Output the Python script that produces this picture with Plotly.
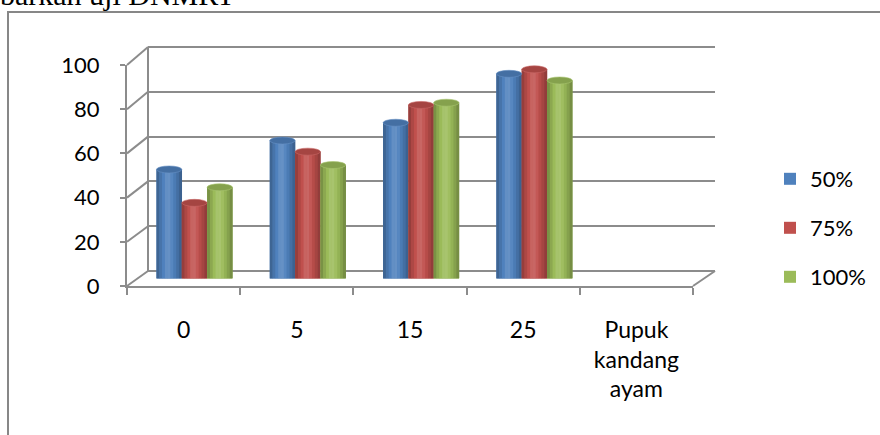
import plotly.graph_objects as go

# ---- data -------------------------------------------------------------
categories = ["0", "5", "15", "25", "Pupuk<br>kandang<br>ayam"]
series_names = ["50%", "75%", "100%"]
values_50 = [49, 62, 70, 92]
values_75 = [34, 57, 78, 94]
values_100 = [41, 51, 79, 89]
y_ticks = [0, 20, 40, 60, 80, 100]

series_values = [values_50, values_75, values_100]
series_colors = ["#4F81BD", "#C0504D", "#9BBB59"]

# ---- canvas geometry (pixels) ----------------------------------------
W, H = 880, 435
GRID = "#8c8c8c"
FONT = "Lato"


def px(x):
    return x / W


def py(y):
    return 1 - y / H


# front plane (axis labels), back wall (gridlines), middle plane (bars)
FRONT_L, FRONT_R, FRONT_0, FRONT_100 = 127, 693, 286, 65
BACK_L, BACK_R, BACK_0, BACK_100 = 148, 715, 271, 47
MID_L, MID_R, MID_0, MID_100 = 137.8, 704.3, 278.5, 56


def front_y(v):
    return FRONT_0 + (FRONT_100 - FRONT_0) * v / 100


def back_y(v):
    return BACK_0 + (BACK_100 - BACK_0) * v / 100


def shade(hex_color, f):
    r, g, b = (int(hex_color[i:i + 2], 16) for i in (1, 3, 5))
    if f <= 1:
        r, g, b = r * f, g * f, b * f
    else:
        t = min(1.0, (f - 1) * 1.6)
        r, g, b = r + (255 - r) * t, g + (255 - g) * t, b + (255 - b) * t
    return "#%02x%02x%02x" % (int(round(r)), int(round(g)), int(round(b)))


fig = go.Figure()

# invisible anchors so the wall and front subplots exist
fig.add_trace(go.Scatter(x=[None], y=[None], xaxis="x", yaxis="y",
                         showlegend=False, hoverinfo="skip"))
fig.add_trace(go.Scatter(x=[None], y=[None], xaxis="x2", yaxis="y2",
                         showlegend=False, hoverinfo="skip"))

# ---- cylinders ---------------------------------------------------------
n_data = len(values_50)
x_pos = list(range(n_data))
bar_w = 0.2235
profile = [0.78, 0.9, 1.0, 1.07, 1.08, 1.03, 0.95, 0.86, 0.76]
n_strip = len(profile)
legends = ["legend", "legend2", "legend3"]
cap_h = 7 / ((MID_0 - MID_100) / 100)

shapes = []
for k, (name, vals, col) in enumerate(zip(series_names, series_values, series_colors)):
    left = (k - 1.5) * bar_w
    fig.add_trace(go.Bar(
        x=x_pos, y=vals, width=bar_w, offset=left,
        marker=dict(color=col, line=dict(width=0)),
        name=name, legend=legends[k], showlegend=True,
        xaxis="x3", yaxis="y3", hoverinfo="y",
    ))
    sw = bar_w / n_strip
    for j, f in enumerate(profile):
        fig.add_trace(go.Bar(
            x=x_pos, y=vals, width=sw + 0.002, offset=left + j * sw,
            marker=dict(color=shade(col, f), line=dict(width=0)),
            showlegend=False, xaxis="x3", yaxis="y3", hoverinfo="skip",
        ))
    for i, v in enumerate(vals):
        x0 = i + left
        x1 = x0 + bar_w
        shapes.append(dict(type="circle", xref="x3", yref="y3",
                           x0=x0, x1=x1, y0=v - cap_h / 2, y1=v + cap_h / 2,
                           fillcolor=shade(col, 0.86),
                           line=dict(color=shade(col, 1.08), width=0.6),
                           layer="above"))
        shapes.append(dict(type="circle", xref="x3", yref="y3",
                           x0=x0, x1=x1, y0=-cap_h / 2, y1=cap_h / 2,
                           fillcolor=shade(col, 0.85), line=dict(width=0),
                           layer="below"))

# ---- side wall, back edge and floor edges --------------------------------
edge = dict(color=GRID, width=2)
for v in y_ticks:
    shapes.append(dict(type="line", xref="paper", yref="paper",
                       x0=px(FRONT_L), y0=py(front_y(v)),
                       x1=px(BACK_L), y1=py(back_y(v)),
                       line=edge, layer="below"))
shapes.append(dict(type="line", xref="paper", yref="paper",
                   x0=px(FRONT_R), y0=py(front_y(0)),
                   x1=px(BACK_R), y1=py(back_y(0)),
                   line=edge, layer="below"))
shapes.append(dict(type="line", xref="paper", yref="paper",
                   x0=px(BACK_L), y0=py(back_y(0)),
                   x1=px(BACK_L), y1=py(back_y(100)),
                   line=edge, layer="below"))
# outer chart frame
shapes.append(dict(type="rect", xref="paper", yref="paper",
                   x0=px(8), y0=py(H + 20), x1=px(W + 20), y1=py(12),
                   line=dict(color="#878787", width=2),
                   fillcolor="rgba(0,0,0,0)", layer="below"))

# back wall axis padded a little so the 0 and 100 gridlines are kept
pad = 1.0
ppu_back = (BACK_0 - BACK_100) / 100

tick_font = dict(family=FONT, size=22, color="#000000")
cat_font = dict(family=FONT, size=23, color="#000000")

legend_common = dict(font=tick_font, bgcolor="rgba(0,0,0,0)",
                     xanchor="left", yanchor="middle", itemwidth=30)

fig.update_layout(
    template="none",
    width=W, height=H,
    margin=dict(l=0, r=0, t=0, b=0, pad=0, autoexpand=False),
    paper_bgcolor="white", plot_bgcolor="rgba(0,0,0,0)",
    barmode="overlay",
    showlegend=True,
    shapes=shapes,
    # back wall
    xaxis=dict(domain=[px(BACK_L), px(BACK_R)], range=[-0.5, 4.5],
               visible=False, anchor="y"),
    yaxis=dict(domain=[py(BACK_0 + pad * ppu_back), py(BACK_100 - pad * ppu_back)],
               range=[-pad, 100 + pad],
               tickvals=y_ticks, showticklabels=False, ticks="",
               showgrid=True, gridcolor=GRID, gridwidth=2,
               showline=False, zeroline=False, anchor="x"),
    # front axes with labels
    xaxis2=dict(domain=[px(FRONT_L), px(FRONT_R)], range=[-0.5, 4.5],
                anchor="y2", tickmode="array", tickvals=list(range(len(categories))),
                ticktext=categories, ticks="", tickfont=cat_font,
                ticklabelstandoff=22, automargin=False,
                minor=dict(tickmode="array",
                           tickvals=[i - 0.5 for i in range(len(categories) + 1)],
                           ticks="outside", ticklen=7, tickwidth=2, tickcolor=GRID,
                           showgrid=False),
                showgrid=False, zeroline=False,
                showline=True, linecolor=GRID, linewidth=2),
    yaxis2=dict(domain=[py(FRONT_0), py(FRONT_100)], range=[0, 100],
                anchor="x2", tickvals=y_ticks, ticks="outside", ticklen=5,
                tickwidth=2, tickcolor=GRID, tickfont=tick_font,
                ticklabelstandoff=16, automargin=False,
                showgrid=False, zeroline=False,
                showline=True, linecolor=GRID, linewidth=2),
    # cylinders
    xaxis3=dict(domain=[px(MID_L), px(MID_R)], range=[-0.5, 4.5],
                visible=False, anchor="y3"),
    yaxis3=dict(domain=[py(MID_0), py(MID_100)], range=[0, 100],
                visible=False, anchor="x3"),
    legend=dict(x=px(770), y=py(179), **legend_common),
    legend2=dict(x=px(770), y=py(228), **legend_common),
    legend3=dict(x=px(770), y=py(277), **legend_common),
    annotations=[dict(text="barkan uji DNMRT", xref="paper", yref="paper",
                      x=px(-2), y=py(13), xanchor="left", yanchor="bottom",
                      showarrow=False,
                      font=dict(family="Liberation Serif", size=30, color="#000000"))],
)

fig.write_html("out.html")
